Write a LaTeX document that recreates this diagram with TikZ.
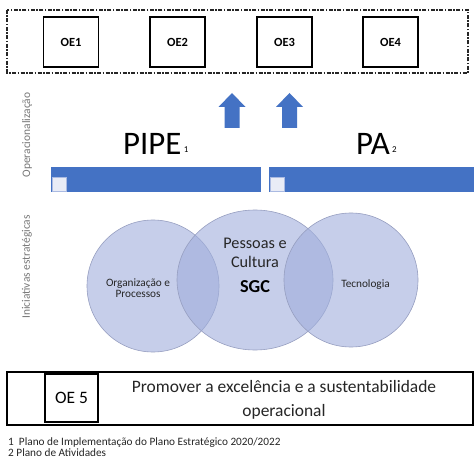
\documentclass[tikz,border=0pt]{standalone}
\usepackage{fontspec}
\setmainfont{Carlito}
\usepackage{xcolor}
\usetikzlibrary{positioning,shapes.geometric}

\definecolor{planblue}{RGB}{68,114,196}
\definecolor{tabfill}{RGB}{233,236,246}
\definecolor{tabdraw}{RGB}{170,186,226}
\definecolor{vennfill}{RGB}{160,174,220}
\definecolor{venndraw}{RGB}{150,158,192}
\definecolor{sidegray}{RGB}{120,120,120}

\begin{document}
\begin{tikzpicture}[
  x=1bp,
  y=-1bp,
  oebox/.style={draw=black, line width=1.5bp, minimum width=55bp, minimum height=50bp,
    inner sep=0pt, font=\bfseries\fontsize{12.5}{15}\selectfont},
  frame/.style={draw=black!85, line width=1.3bp,
    dash pattern=on 4bp off 1.5bp on 1.5bp off 1.5bp},
  tab/.style={fill=tabfill, draw=tabdraw, line width=0.5bp},
  venn/.style={fill=vennfill, fill opacity=0.6, draw=venndraw, line width=0.6bp, inner sep=0pt},
  side/.style={rotate=90, text=sidegray, inner sep=0pt, font=\fontsize{11.5}{13}\selectfont},
  plan/.style={inner sep=0pt, font=\fontsize{33}{36}\selectfont},
  plannum/.style={inner sep=0pt, font=\fontsize{9}{10}\selectfont},
  small/.style={inner sep=0pt, align=center, text=black!85, font=\fontsize{11.3}{11}\selectfont},
  foot/.style={inner sep=0pt, text=black!85, font=\fontsize{11.3}{12}\selectfont}
]
  \fill[white] (0,0) rectangle (474,470);
  \useasboundingbox (0,0) rectangle (474,470);

  % strategic objectives
  \draw[frame] (7,10) rectangle (468,73);
  \foreach \n/\x in {1/71,2/177.5,3/284.5,4/390.5}
    \node[oebox] (oe\n) at (\x,42) {OE\n};

  \foreach \x in {232,289.5}
    \fill[planblue] (\x,93) -- (\x+13.5,107) -- (\x+7.5,107) -- (\x+7.5,128)
      -- (\x-7.5,128) -- (\x-7.5,107) -- (\x-13.5,107) -- cycle;

  % plans
  \node[plan, anchor=base west] (pipe) at (123,155) {PIPE};
  \node[plannum, anchor=base west] (pipen) at ([xshift=2bp,yshift=2bp]pipe.base east) {1};
  \node[plan, anchor=base west] (pa) at (356,155) {PA};
  \node[plannum, anchor=base west] (pan) at ([xshift=2bp,yshift=2bp]pa.base east) {2};

  \fill[planblue] (51,167) rectangle (261,192);
  \fill[planblue] (269,167) rectangle (474,192);
  \draw[tab] (52.5,177) rectangle (66,191);
  \draw[tab] (270.5,177) rectangle (284,191);

  \node[side] (opl) at (27,135) {Operacionalização};
  \node[side] (ini) at (27,267) {Iniciativas estratégicas};

  % strategic initiatives
  \node[venn, circle, minimum size=132bp] (org) at (153,286) {};
  \node[venn, ellipse, minimum width=156bp, minimum height=140bp] (pes) at (255,280) {};
  \node[venn, circle, minimum size=134bp] (tec) at (351,280) {};

  \node[small] (orgt) at (138,288.5) {Organização e\\Processos};
  \node[small, align=center, font=\fontsize{16.3}{19}\selectfont] (pest) at (255,252.5) {Pessoas e\\Cultura};
  \node[inner sep=0pt, font=\bfseries\fontsize{18.3}{20}\selectfont] (sgc) at (255,287) {SGC};
  \node[small] (tect) at (365.5,285) {Tecnologia};

  % OE 5
  \draw[line width=1.5bp] (7,372) rectangle (473,425);
  \node[oebox, line width=2bp, minimum width=53bp, minimum height=48bp,
    font=\fontsize{17.5}{20}\selectfont] (oe5) at (71.5,398) {OE 5};
  \node[align=center, inner sep=0pt, text=black!85, font=\fontsize{17.5}{24}\selectfont]
    (oe5t) at (284,400) {Promover a excelência e a sustentabilidade\\operacional};

  \node[foot, anchor=base west] (fn1) at (8,445) {1\ \ Plano de Implementação do Plano Estratégico 2020/2022};
  \node[foot, anchor=base west] (fn2) at (8,456) {2 Plano de Atividades};
\end{tikzpicture}
\end{document}
